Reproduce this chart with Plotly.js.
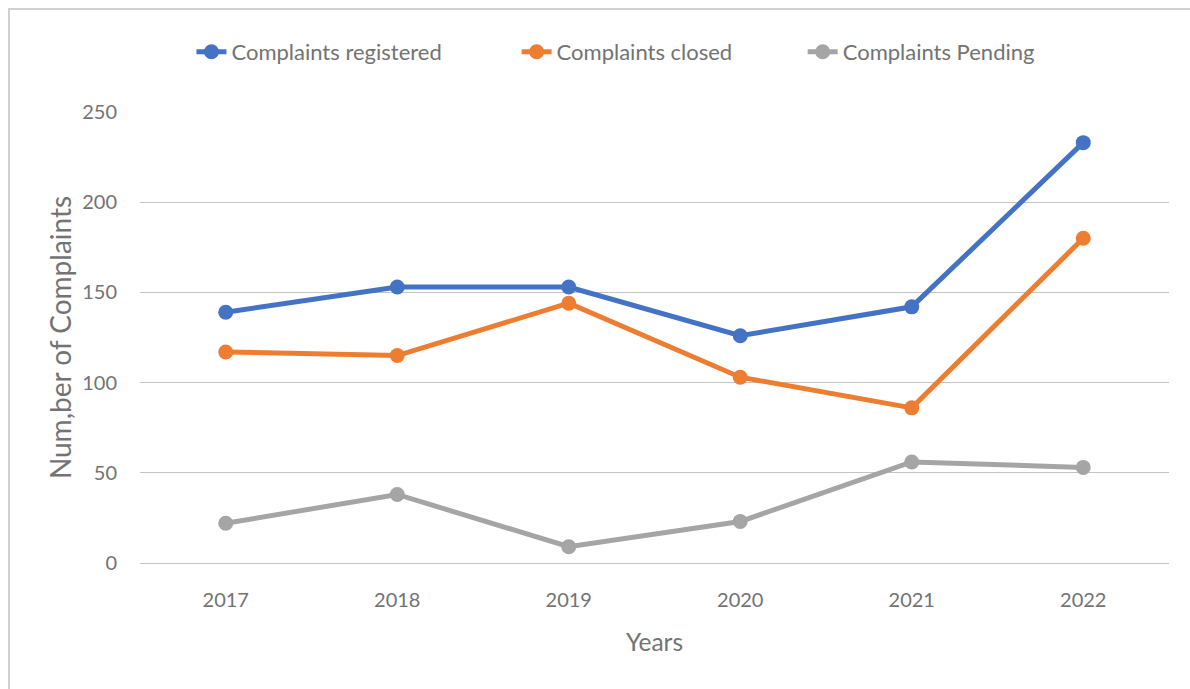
<!DOCTYPE html>
<html>
<head>
<meta charset="utf-8">
<script src="https://cdn.plot.ly/plotly-3.0.1.min.js"></script>
<style>
html,body{margin:0;padding:0;background:#fff;}
#wrap{position:relative;width:1190px;height:689px;}
#chart{position:absolute;left:0;top:0;width:1190px;height:689px;}
#frame{position:absolute;left:8px;top:8px;width:1300px;height:800px;border-left:2px solid #d0d0d0;border-top:2px solid #d0d0d0;pointer-events:none;}
</style>
</head>
<body>
<div id="wrap"><div id="chart"></div><div id="frame"></div></div>
<script>
const years = ["2017","2018","2019","2020","2021","2022"];
const registered = [139,153,153,126,142,233];
const closed = [117,115,144,103,86,180];
const pending = [22,38,9,23,56,53];
const seriesNames = ["Complaints registered","Complaints closed","Complaints Pending"];
const tickVals = [0,50,100,150,200,250];

const txt = "#737373";
const fam = "Lato, 'Open Sans', sans-serif";
function tr(y, name, color, lg){
  return {x: years, y: y, name: name, type: "scatter", mode: "lines+markers", legend: lg,
    line: {color: color, width: 5}, marker: {color: color, size: 15}};
}
const data = [
  tr(registered, seriesNames[0], "#4472C4", "legend"),
  tr(closed, seriesNames[1], "#ED7D31", "legend2"),
  tr(pending, seriesNames[2], "#A5A5A5", "legend3")
];
function lg(x){
  return {orientation: "h", x: x, xanchor: "left", y: 1.133, yanchor: "middle",
    font: {size: 22, color: txt, family: fam}, bgcolor: "rgba(0,0,0,0)"};
}
const layout = {
  width: 1190, height: 689,
  margin: {l: 140, r: 21, t: 112, b: 126},
  paper_bgcolor: "#fff", plot_bgcolor: "#fff",
  font: {family: fam, color: txt, size: 20},
  showlegend: true,
  legend: lg(0.050),
  legend2: lg(0.366),
  legend3: lg(0.644),
  xaxis: {type: "category", range: [-0.5, 5.5], showgrid: false, zeroline: false, showline: false,
    ticks: "", tickfont: {size: 20, color: txt}, ticklabelstandoff: 23,
    title: {text: "Years", font: {size: 24.5, color: txt}, standoff: 23}},
  yaxis: {range: [0, 250], tickvals: tickVals, showgrid: true, gridcolor: "#c4c4c4", gridwidth: 1,
    zeroline: true, zerolinecolor: "#c4c4c4", zerolinewidth: 1, showline: false, ticks: "",
    tickfont: {size: 20, color: txt}, ticklabelstandoff: 22,
    title: {text: "Num,ber of Complaints", font: {size: 28, color: txt}, standoff: 2}}
};
Plotly.newPlot("chart", data, layout, {displayModeBar: false, staticPlot: true});
</script>
</body>
</html>
